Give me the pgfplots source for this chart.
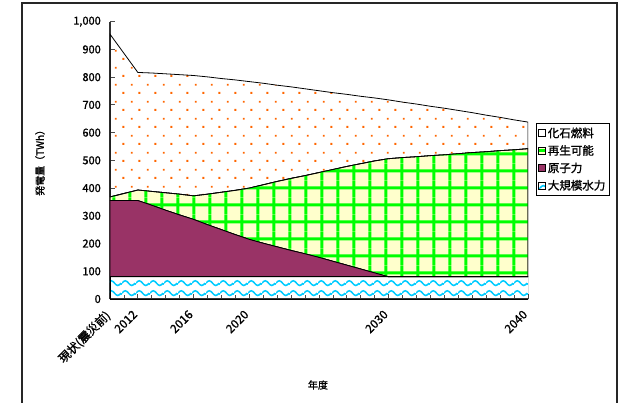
\documentclass[border=0pt]{standalone}
\usepackage{fontspec}
\setmainfont{Noto Sans CJK JP}[FakeBold=1.2]
\usepackage{pgfplots}
\pgfplotsset{compat=1.18}
\usepackage{pgfplotstable}
\usetikzlibrary{patterns.meta}

\definecolor{fossilorange}{HTML}{FF6600}
\definecolor{gridgreen}{HTML}{00FF00}
\definecolor{renewyellow}{HTML}{FFFFCC}
\definecolor{nuclearplum}{HTML}{993366}
\definecolor{hydrocyan}{HTML}{00CCFF}

% fill patterns for the four sources
\tikzdeclarepattern{
  name=fossildots, type=colored,
  bounding box={(0pt,0pt) and (16pt,16.67pt)},
  tile size={(16pt,16.67pt)},
  code={
    \fill[fossilorange] (3pt,14.5pt) rectangle (5pt,16.5pt);
    \fill[fossilorange] (11pt,6.2pt) rectangle (13pt,8.2pt);
  }
}
\tikzdeclarepattern{
  name=greengrid, type=colored,
  bounding box={(0pt,0pt) and (16pt,17.25pt)},
  tile size={(16pt,17.25pt)},
  code={
    \fill[gridgreen] (0.5pt,0pt) rectangle (3.5pt,17.25pt);
    \fill[gridgreen] (0pt,8pt) rectangle (16pt,11pt);
  }
}
\tikzdeclarepattern{
  name=hydrowaves, type=colored,
  bounding box={(0pt,0pt) and (13.5pt,9.5pt)},
  tile size={(13.5pt,9.5pt)},
  code={
    \draw[hydrocyan, line width=1.6pt] (0pt,5pt) sin (3.375pt,7.4pt) cos (6.75pt,5pt) sin (10.125pt,2.6pt) cos (13.5pt,5pt);
  }
}

% generation by source (TWh); 2010 = before the earthquake
\pgfplotstableread{
year hydro nuclear renew fossil
2010 80 275  13 587
2012 80 275  38 424
2013 80 258  50 427
2014 80 240  63 429
2015 80 223  75 431
2016 80 207  85 434
2017 80 188 110 423
2018 80 170 135 410
2019 80 152 160 398
2020 80 135 185 384
2021 80 121 211 366
2022 80 108 236 347
2023 80  95 260 330
2024 80  83 282 313
2025 80  70 306 295
2026 80  56 331 277
2027 80  42 356 260
2028 80  28 380 243
2029 80  14 404 227
2030 80   0 426 212
2031 80   0 430 200
2032 80   0 433 190
2033 80   0 437 178
2034 80   0 440 168
2035 80   0 444 156
2036 80   0 448 144
2037 80   0 451 132
2038 80   0 455 120
2039 80   0 458 108
2040 80   0 462  96
}\gendata

\begin{document}
\begin{tikzpicture}
\useasboundingbox (-110pt,-103pt) rectangle (508pt,299pt);
% chart frame
\draw[black!85, line width=1.2pt] (-88pt,-110pt) -- (-88pt,296pt) -- (507pt,296pt) -- (507pt,-110pt);
\begin{axis}[
  at={(0pt,0pt)}, anchor=south west,
  scale only axis, width=418pt, height=277.3pt,
  xmin=2010, xmax=2040, ymin=0, ymax=1000,
  axis lines*=left,
  axis line style={black!80, line width=1.2pt},
  tick align=inside,
  major tick length=5pt, minor tick length=4pt,
  every tick/.style={black!70, line width=0.8pt},
  xtick={2010,2012,2016,2020,2030,2040},
  xticklabels={現状(震災前),2012,2016,2020,2030,2040},
  minor xtick={2011,...,2039},
  ytick={0,100,...,1000},
  /pgf/number format/assume math mode=true,
  /pgf/number format/1000 sep={,},
  yticklabel style={font=\fontsize{11}{13}\selectfont, inner sep=0pt, xshift=-9pt},
  xticklabel style={font=\fontsize{11.8}{13}\selectfont, xshift=-6pt, yshift=-10pt, rotate=45, anchor=north east, inner sep=0pt},
  ylabel={発電量（TWh）},
  xlabel={年度},
  ylabel style={font=\fontsize{11.5}{13}\selectfont},
  xlabel style={font=\fontsize{11}{13}\selectfont},
  every axis y label/.style={at={(axis description cs:-0.1675,0.5)}, rotate=90, anchor=center},
  every axis x label/.style={at={(axis description cs:0.4976,-0.310)}, anchor=center},
  stack plots=y,
  legend image code/.code={\draw[#1, draw=black, line width=0.5pt] (0pt,-3.5pt) rectangle (7pt,3.5pt);},
  reverse legend,
  legend cell align=left,
  legend style={at={(1.019,0.634)}, anchor=north west, draw=black, line width=0.8pt,
    font=\fontsize{11.5}{13}\selectfont, inner sep=2pt, row sep=2.3pt,
    /tikz/every even column/.append style={column sep=2pt}},
]
\addplot[draw=black, line width=0.8pt, pattern=hydrowaves] table[x=year, y=hydro] {\gendata} \closedcycle;
\addlegendentry{大規模水力}
\addplot[draw=black, line width=0.8pt, fill=nuclearplum] table[x=year, y=nuclear] {\gendata} \closedcycle;
\addlegendentry{原子力}
\addplot[draw=black, line width=0.8pt, preaction={fill=renewyellow}, pattern=greengrid] table[x=year, y=renew] {\gendata} \closedcycle;
\addlegendentry{再生可能}
\addplot[draw=black, line width=0.8pt, pattern=fossildots] table[x=year, y=fossil] {\gendata} \closedcycle;
\addlegendentry{化石燃料}
\end{axis}
\end{tikzpicture}
\end{document}
